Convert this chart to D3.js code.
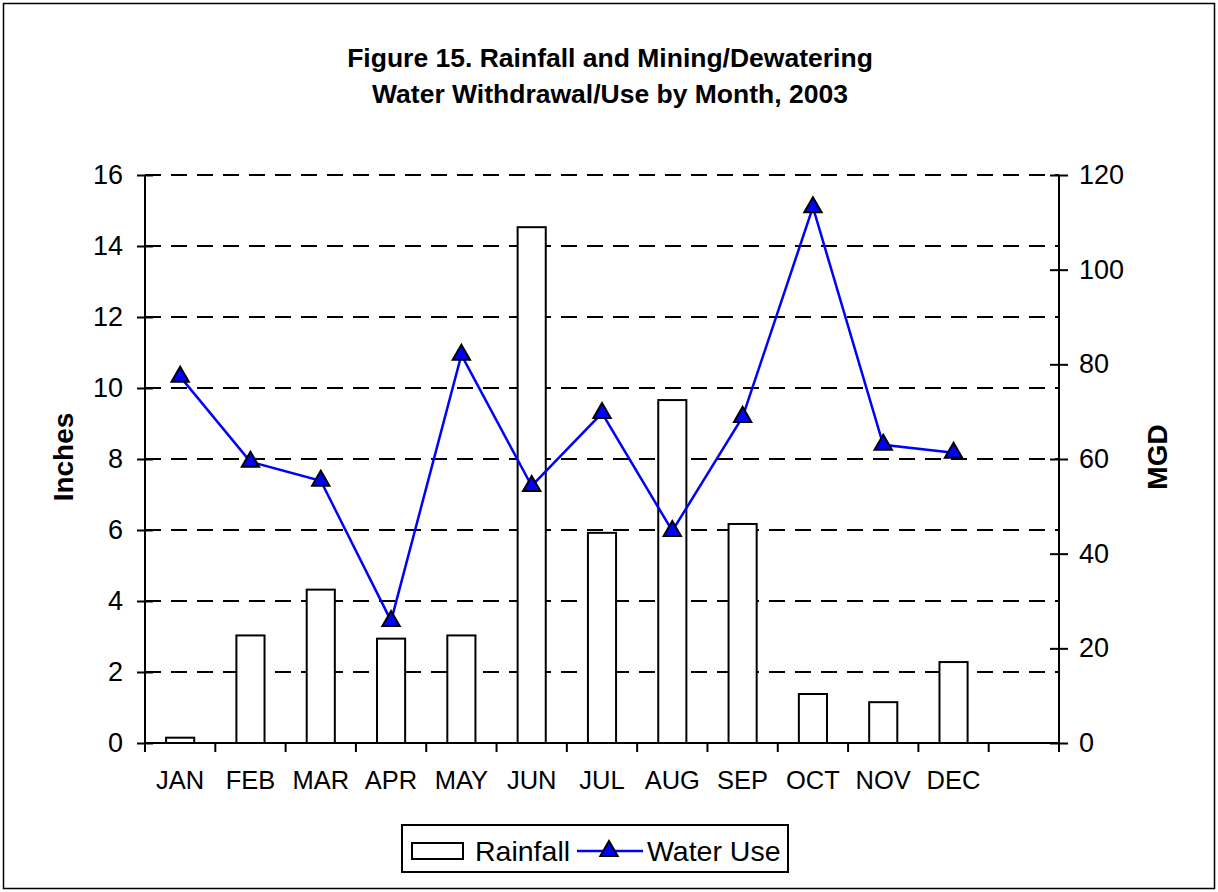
<!DOCTYPE html>
<html>
<head>
<meta charset="utf-8">
<script src="https://cdn.jsdelivr.net/npm/d3@7"></script>
<style>
  body { margin: 0; background: #fff; }
  svg { display: block; }
  text { font-family: Arial, "Liberation Sans", sans-serif; fill: #000; }
</style>
</head>
<body>
<div id="container"></div>
<script>
/* DATA */
const months = ["JAN", "FEB", "MAR", "APR", "MAY", "JUN", "JUL", "AUG", "SEP", "OCT", "NOV", "DEC", ""];
const rainfall = [0.15, 3.03, 4.32, 2.94, 3.03, 14.53, 5.92, 9.66, 6.17, 1.38, 1.15, 2.28];
const waterUse = [77.4, 59.4, 55.4, 25.8, 82.0, 54.3, 69.7, 44.8, 68.9, 113.2, 63.0, 61.3];
const inchTicks = [0, 2, 4, 6, 8, 10, 12, 14, 16];
const mgdTicks = [0, 20, 40, 60, 80, 100, 120];

/* CONSTANTS */
const width = 1218, height = 892;
const margin = { top: 175, right: 159, bottom: 149, left: 145 };
const plotW = width - margin.left - margin.right;
const plotH = height - margin.top - margin.bottom;

const svg = d3.select("#container")
  .append("svg")
  .attr("width", width)
  .attr("height", height);

// outer frame
svg.append("rect")
  .attr("x", 3.5).attr("y", 3.5)
  .attr("width", width - 7).attr("height", height - 7)
  .attr("fill", "none").attr("stroke", "#000").attr("stroke-width", 1.5);

// title
const title = svg.append("text")
  .attr("text-anchor", "middle")
  .attr("font-weight", "bold")
  .attr("font-size", 26.5);
title.append("tspan").attr("x", 610).attr("y", 67).text("Figure 15. Rainfall and Mining/Dewatering");
title.append("tspan").attr("x", 610).attr("y", 103).text("Water Withdrawal/Use by Month, 2003");

const g = svg.append("g").attr("transform", `translate(${margin.left},${margin.top})`);

/* SCALES */
const xScale = d3.scaleBand().domain(months.map((d, i) => i)).range([0, plotW]).padding(0);
const yLeft = d3.scaleLinear().domain([0, 16]).range([plotH, 0]);
const yRight = d3.scaleLinear().domain([0, 120]).range([plotH, 0]);

// dashed gridlines
g.append("g")
  .selectAll("line")
  .data(inchTicks.filter(d => d > 0))
  .join("line")
  .attr("x1", 0).attr("x2", plotW)
  .attr("y1", d => yLeft(d)).attr("y2", d => yLeft(d))
  .attr("stroke", "#000").attr("stroke-width", 2)
  .attr("stroke-dasharray", "16,10");

// bars
const barW = xScale.bandwidth() * 0.4;
g.append("g")
  .selectAll("rect")
  .data(rainfall)
  .join("rect")
  .attr("x", (d, i) => xScale(i) + (xScale.bandwidth() - barW) / 2)
  .attr("y", d => yLeft(d))
  .attr("width", barW)
  .attr("height", d => plotH - yLeft(d))
  .attr("fill", "#fff").attr("stroke", "#000").attr("stroke-width", 2);

// left axis
const leftAxis = g.append("g")
  .call(d3.axisLeft(yLeft).tickValues(inchTicks).tickSize(8));
leftAxis.select(".domain").attr("stroke-width", 2).attr("d", `M0,${plotH}V0`);
leftAxis.selectAll(".tick line").attr("x1", -8).attr("x2", 8).attr("stroke-width", 2);
leftAxis.selectAll(".tick text").attr("font-size", 27).attr("x", -22).attr("font-family", null);

// right axis
const rightAxis = g.append("g")
  .attr("transform", `translate(${plotW},0)`)
  .call(d3.axisRight(yRight).tickValues(mgdTicks).tickSize(8));
rightAxis.select(".domain").attr("stroke-width", 2).attr("d", `M0,${plotH}V0`);
rightAxis.selectAll(".tick line").attr("x1", -9).attr("x2", 9).attr("stroke-width", 2);
rightAxis.selectAll(".tick text").attr("font-size", 27).attr("x", 20).attr("font-family", null);

// x axis (ticks at category boundaries)
const xAxis = g.append("g").attr("transform", `translate(0,${plotH})`);
xAxis.append("line")
  .attr("x1", 0).attr("x2", plotW)
  .attr("stroke", "#000").attr("stroke-width", 2);
xAxis.selectAll("line.tk")
  .data(d3.range(months.length + 1))
  .join("line")
  .attr("class", "tk")
  .attr("x1", d => d < months.length ? xScale(d) : plotW)
  .attr("x2", d => d < months.length ? xScale(d) : plotW)
  .attr("y1", 0).attr("y2", 9)
  .attr("stroke", "#000").attr("stroke-width", 2);
xAxis.selectAll("text")
  .data(months)
  .join("text")
  .attr("x", (d, i) => xScale(i) + xScale.bandwidth() / 2)
  .attr("y", 46)
  .attr("text-anchor", "middle")
  .attr("font-size", 25.5)
  .text(d => d);

// axis titles
svg.append("text")
  .attr("transform", "translate(73,457) rotate(-90)")
  .attr("text-anchor", "middle")
  .attr("font-weight", "bold").attr("font-size", 28)
  .text("Inches");
svg.append("text")
  .attr("transform", "translate(1167,457) rotate(-90)")
  .attr("text-anchor", "middle")
  .attr("font-weight", "bold").attr("font-size", 28)
  .text("MGD");

// water use line
const cx = i => xScale(i) + xScale.bandwidth() / 2;
const line = d3.line().x((d, i) => cx(i)).y(d => yRight(d));
g.append("path")
  .datum(waterUse)
  .attr("d", line)
  .attr("fill", "none").attr("stroke", "#0000ff").attr("stroke-width", 2.5);

const tri = d3.symbol().type(d3.symbolTriangle).size(130);
g.append("g")
  .selectAll("path")
  .data(waterUse)
  .join("path")
  .attr("d", tri)
  .attr("transform", (d, i) => `translate(${cx(i)},${yRight(d)})`)
  .attr("fill", "#0000ff").attr("stroke", "#000").attr("stroke-width", 2);

// legend
const lg = svg.append("g");
lg.append("rect")
  .attr("x", 402).attr("y", 825).attr("width", 386).attr("height", 47)
  .attr("fill", "#fff").attr("stroke", "#000").attr("stroke-width", 2);
lg.append("rect")
  .attr("x", 412).attr("y", 843).attr("width", 51).attr("height", 16)
  .attr("fill", "#fff").attr("stroke", "#000").attr("stroke-width", 2);
lg.append("text")
  .attr("x", 475).attr("y", 861).attr("font-size", 28.5)
  .text("Rainfall");
lg.append("line")
  .attr("x1", 577).attr("x2", 643).attr("y1", 851).attr("y2", 851)
  .attr("stroke", "#0000ff").attr("stroke-width", 2.5);
lg.append("path")
  .attr("d", tri)
  .attr("transform", "translate(609,851)")
  .attr("fill", "#0000ff").attr("stroke", "#000").attr("stroke-width", 2);
lg.append("text")
  .attr("x", 647).attr("y", 861).attr("font-size", 28.5)
  .text("Water Use");
</script>
</body>
</html>
